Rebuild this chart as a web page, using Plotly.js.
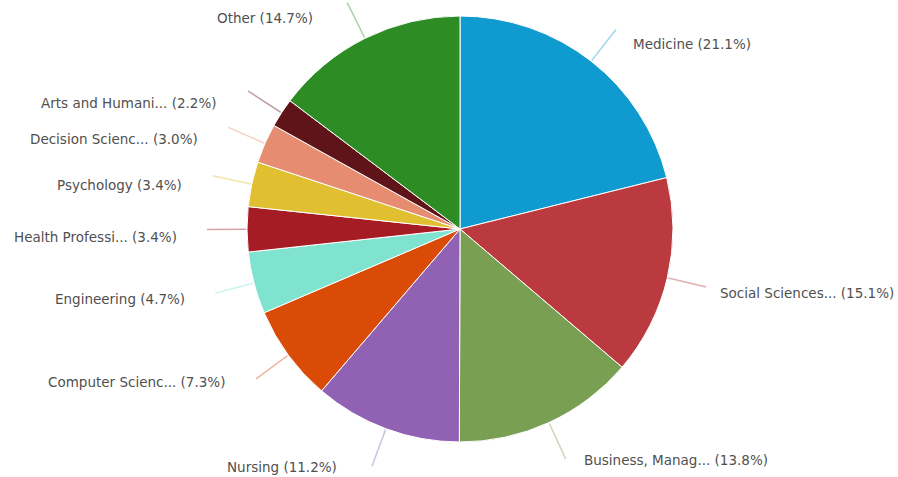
<!DOCTYPE html>
<html>
<head>
<meta charset="utf-8">
<script src="https://cdn.plot.ly/plotly-3.0.1.min.js"></script>
<style>html,body{margin:0;padding:0;background:#fff;}#chart{width:898px;height:477px;}</style>
</head>
<body>
<div id="chart"></div>
<script>
// ---- data ----
const labels = ["Medicine", "Social Sciences...", "Business, Manag...", "Nursing", "Computer Scienc...",
  "Engineering", "Health Professi...", "Psychology", "Decision Scienc...", "Arts and Humani...", "Other"];
const values = [21.1, 15.1, 13.8, 11.2, 7.3, 4.7, 3.4, 3.4, 3.0, 2.2, 14.7];
const colors = ["#0f9ad0", "#bb3a40", "#789f52", "#9161b3", "#db4b08",
  "#7fe3d0", "#a61c25", "#e0c030", "#e68c70", "#5e1418", "#2e8c24"];

// ---- layout geometry (styling) ----
const W = 898, H = 477;
const cx = 460, cy = 229, r = 213;
const lineIn = r + 1, lineOut = r + 40, labelR = 245, labelDy = 8;
const gapRight = 20, gapLeft = 36;

const total = values.reduce((a, b) => a + b, 0);
const shapes = [], annotations = [];
let cum = 0;
values.forEach((v, i) => {
  const mid = (cum + v / 2) / total * 2 * Math.PI;
  cum += v;
  const s = Math.sin(mid), c = Math.cos(mid);
  const px = (x) => x / W, py = (y) => 1 - y / H;
  shapes.push({
    type: "line", xref: "paper", yref: "paper",
    x0: px(cx + lineIn * s), y0: py(cy - lineIn * c),
    x1: px(cx + lineOut * s), y1: py(cy - lineOut * c),
    line: {color: colors[i], width: 1.5}, opacity: 0.4
  });
  const right = s >= 0;
  annotations.push({
    xref: "paper", yref: "paper",
    x: px(cx + labelR * s + (right ? gapRight : -gapLeft)),
    y: py(cy - labelR * c + labelDy),
    xanchor: right ? "left" : "right", yanchor: "middle",
    text: labels[i] + " (" + v.toFixed(1) + "%)",
    showarrow: false,
    font: {family: "DejaVu Sans, Verdana, sans-serif", size: 13.5, color: "#505050"}
  });
});

const trace = {
  type: "pie",
  labels: labels,
  values: values,
  sort: false,
  direction: "clockwise",
  rotation: 0,
  textinfo: "none",
  hoverinfo: "label+percent",
  marker: {colors: colors, line: {color: "#ffffff", width: 1}},
  domain: {x: [(cx - r) / W, (cx + r) / W], y: [1 - (cy + r) / H, 1 - (cy - r) / H]},
  showlegend: false
};

Plotly.newPlot("chart", [trace], {
  width: W, height: H,
  margin: {l: 0, r: 0, t: 0, b: 0},
  paper_bgcolor: "#ffffff",
  showlegend: false,
  shapes: shapes,
  annotations: annotations
}, {displayModeBar: false, staticPlot: true});
</script>
</body>
</html>
